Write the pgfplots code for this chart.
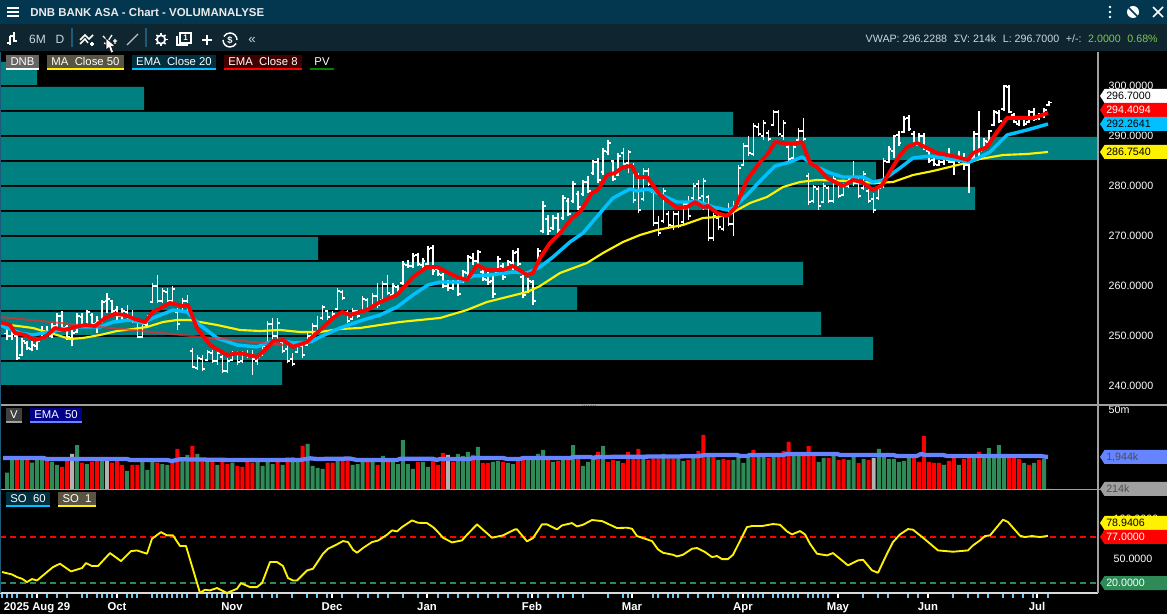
\documentclass[border=0pt]{standalone}
\usepackage{fontspec}
\setmainfont{Liberation Sans}
\usepackage{pgfplots}
\usepackage{pgfplotstable}
\pgfplotsset{compat=1.18}
\definecolor{band}{HTML}{008080}
\definecolor{titlebar}{HTML}{03364F}
\definecolor{toolbar}{HTML}{0F2530}
\definecolor{sep}{HTML}{1F5A7A}
\definecolor{volgreen}{HTML}{2E8B57}
\definecolor{emablue}{HTML}{6684FF}
\definecolor{cyanl}{HTML}{00C0FF}
\definecolor{tickblue}{HTML}{6CC6F0}
\definecolor{frame}{HTML}{A0A0A0}
\definecolor{info}{HTML}{C8D8E0}
\definecolor{infogreen}{HTML}{7EC850}
\pgfplotstableread{
i h l o c
0 251.9 249.2 250.5 250.0
1 251.5 249.2 250.0 250.4
2 250.5 245.2 250.0 245.6
3 249.5 245.9 246.2 249.0
4 248.9 247.2 248.6 247.6
5 248.9 246.9 247.4 248.2
6 249.2 247.2 248.0 248.9
7 251.9 249.2 249.4 251.0
8 251.9 249.9 250.6 250.4
9 252.5 249.5 250.0 252.0
10 254.5 251.5 252.0 254.0
11 254.9 251.2 254.0 251.6
12 252.2 249.2 251.8 249.8
13 251.9 247.9 249.6 250.6
14 254.5 250.5 250.8 254.0
15 254.5 251.5 253.8 252.0
16 255.2 251.9 252.2 254.8
17 254.5 251.9 254.2 252.4
18 253.9 250.5 252.6 253.0
19 257.2 252.5 253.0 256.8
20 258.5 254.5 257.0 257.4
21 257.2 254.5 257.0 255.0
22 255.9 253.2 255.2 254.0
23 255.5 253.2 254.0 255.0
24 256.2 252.9 254.8 253.4
25 255.2 252.5 253.4 253.0
26 253.2 249.5 252.8 249.8
27 252.9 249.5 249.8 252.4
28 254.2 251.5 252.2 254.0
29 260.5 256.5 256.8 260.0
30 262.2 256.5 260.0 257.0
31 259.5 256.5 257.0 259.0
32 259.5 256.5 258.8 257.0
33 259.9 256.5 257.0 259.4
34 255.5 251.2 254.8 252.4
35 257.5 254.5 254.8 257.0
36 258.2 254.9 257.0 255.4
37 247.5 243.5 247.0 243.8
38 246.2 243.2 243.6 245.6
39 246.2 242.9 245.4 243.4
40 247.2 244.9 245.2 246.8
41 247.2 244.5 246.6 245.0
42 247.2 244.2 245.0 246.6
43 246.2 242.5 245.8 243.0
44 245.5 242.5 243.0 245.0
45 246.9 244.9 245.2 246.4
46 246.9 244.2 246.4 244.8
47 246.9 244.5 245.0 246.4
48 247.2 245.5 246.2 246.0
49 247.2 242.2 246.0 245.4
50 246.2 244.2 245.0 245.8
51 248.2 245.9 246.2 248.0
52 252.9 248.2 248.4 252.4
53 253.5 249.2 252.4 250.0
54 253.5 249.2 250.0 252.6
55 249.2 246.5 248.8 247.0
56 248.2 244.5 247.4 245.0
57 246.5 243.9 245.4 244.4
58 248.5 246.5 246.8 248.2
59 248.9 245.5 248.0 246.2
60 250.5 247.9 248.2 250.0
61 252.5 248.5 250.0 252.0
62 253.9 250.5 252.0 250.8
63 256.2 253.2 253.6 255.8
64 255.2 253.2 255.0 253.8
65 254.9 252.9 253.4 254.4
66 259.5 255.2 255.4 259.0
67 259.2 257.2 258.8 257.6
68 255.2 252.5 254.8 253.0
69 255.5 253.2 253.4 255.0
70 255.2 253.5 255.0 254.0
71 257.9 254.5 254.8 257.4
72 257.5 255.2 257.2 255.6
73 258.5 255.5 255.8 258.0
74 260.5 255.5 258.0 256.2
75 260.9 256.9 257.2 260.4
76 262.2 258.2 260.4 258.6
77 260.5 257.9 258.2 260.0
78 260.2 257.9 259.8 258.4
79 264.9 260.2 260.6 264.4
80 265.2 263.5 264.2 264.0
81 266.5 263.5 264.0 266.0
82 266.5 263.9 266.2 264.4
83 265.5 263.5 264.2 265.0
84 267.9 263.9 264.4 267.4
85 268.2 262.2 267.6 263.0
86 263.9 261.9 263.4 262.4
87 262.5 259.5 262.2 260.0
88 261.2 258.9 260.0 259.6
89 261.2 259.2 259.6 260.8
90 261.2 257.9 260.8 258.4
91 263.2 260.5 260.8 262.8
92 266.2 261.9 262.6 265.8
93 266.5 264.2 265.6 265.0
94 267.2 264.2 265.0 266.8
95 263.2 260.9 262.8 261.4
96 262.9 260.2 261.2 260.8
97 261.9 257.5 261.0 258.4
98 265.9 262.5 262.8 265.4
99 264.5 261.2 264.0 261.8
100 265.2 263.2 263.6 264.8
101 267.2 263.2 264.6 266.6
102 267.5 263.9 266.8 264.4
103 262.2 257.5 261.8 258.2
104 261.5 258.5 258.8 261.0
105 261.2 256.2 260.8 257.0
106 267.6 263.4 263.8 267.0
107 276.9 270.5 271.0 276.0
108 274.2 270.2 273.4 271.0
109 274.2 271.2 271.6 273.6
110 274.5 270.5 273.6 271.2
111 278.2 273.2 273.6 277.6
112 277.5 273.9 277.0 274.4
113 280.9 276.5 277.0 280.4
114 278.9 275.2 278.4 275.8
115 281.2 277.9 278.4 280.8
116 281.9 278.5 280.8 279.0
117 285.2 282.2 282.6 284.8
118 285.5 280.5 284.8 281.2
119 287.5 282.2 282.8 287.0
120 289.2 286.2 286.8 288.6
121 285.2 280.9 285.0 281.4
122 286.5 281.9 282.2 286.0
123 287.5 283.9 286.6 284.4
124 287.2 282.5 284.6 286.8
125 284.5 276.5 284.0 277.2
126 282.5 274.5 282.0 275.2
127 283.5 276.9 277.4 283.0
128 283.5 279.9 283.0 280.4
129 279.2 271.9 278.8 272.6
130 273.9 269.9 272.6 270.6
131 279.5 272.5 273.0 279.0
132 274.9 271.5 274.4 272.2
133 274.9 271.2 272.0 274.4
134 274.9 271.5 274.4 272.0
135 276.9 272.2 272.8 276.4
136 277.9 273.2 276.4 274.0
137 280.5 277.2 277.6 280.0
138 281.2 276.9 280.4 277.6
139 281.5 275.2 278.0 281.0
140 278.2 268.9 277.8 269.6
141 274.5 268.9 269.6 274.0
142 274.2 271.2 273.6 271.8
143 274.5 270.9 271.4 274.0
144 276.5 271.9 274.0 272.4
145 276.9 269.9 272.4 276.0
146 284.2 275.9 276.4 283.6
147 288.5 283.9 284.2 288.0
148 289.9 285.9 288.0 286.6
149 292.5 285.9 286.4 292.0
150 292.5 289.9 291.8 290.4
151 293.2 289.2 290.0 292.6
152 291.2 288.9 290.6 289.4
153 295.2 291.9 292.2 294.8
154 295.2 289.9 294.8 290.4
155 293.2 289.2 290.0 292.6
156 288.2 284.9 287.8 285.4
157 288.2 285.2 285.6 287.8
158 291.5 288.9 289.2 291.0
159 293.5 288.9 291.0 289.4
160 282.5 276.2 282.0 276.8
161 280.2 276.5 277.0 279.8
162 279.9 275.2 279.4 276.0
163 280.5 276.5 276.8 280.0
164 279.9 276.5 279.6 277.0
165 281.9 276.5 277.0 281.4
166 280.9 277.5 280.6 278.0
167 280.5 277.9 278.2 280.0
168 281.9 279.5 280.0 281.4
169 284.9 279.9 281.0 280.6
170 281.5 277.5 280.6 278.0
171 282.9 279.2 279.6 282.4
172 279.5 276.5 279.0 277.0
173 278.5 274.5 277.4 275.2
174 279.9 277.2 277.6 279.6
175 285.5 279.5 280.0 285.0
176 287.9 284.5 284.8 287.4
177 290.2 285.5 287.0 290.0
178 291.0 288.0 290.2 288.6
179 293.9 290.5 290.8 293.4
180 294.2 290.9 293.6 291.4
181 290.9 287.9 290.4 288.4
182 290.5 287.9 288.2 290.0
183 290.5 287.2 290.0 287.8
184 287.2 284.5 287.0 285.0
185 285.5 283.9 285.2 284.4
186 285.2 283.9 284.2 284.8
187 285.9 284.2 284.8 285.4
188 287.5 284.5 285.2 284.8
189 285.9 282.2 284.8 285.2
190 286.9 284.5 285.2 285.0
191 286.5 283.2 285.0 284.2
192 285.2 278.5 284.2 284.8
193 290.9 285.2 285.6 290.4
194 294.9 285.9 290.4 287.0
195 289.5 287.2 287.4 289.0
196 291.2 288.5 288.8 291.0
197 295.2 291.9 292.2 294.8
198 295.2 292.5 294.6 293.0
199 300.2 295.0 295.4 300.0
200 300.2 294.5 299.8 294.8
201 294.5 292.5 294.2 292.8
202 293.9 291.9 292.4 293.4
203 293.9 291.9 293.4 292.4
204 295.2 292.5 292.8 294.8
205 295.5 292.9 294.8 293.4
206 294.5 293.2 293.6 294.2
207 295.5 293.5 294.2 295.2
208 296.9 295.9 296.2 296.7
}\ohlc
\pgfplotstableread{
i v
0 660
1 1780
3 1780
5 1320
6 1780
7 1780
9 1380
10 1125
14 4460
16 1200
19 1585
24 743
27 1515
28 795
29 1515
31 1200
32 1125
35 1585
36 2240
38 2400
40 1585
42 1125
45 1320
50 1585
51 1050
52 1515
53 1200
55 1125
57 1905
58 1585
60 4790
61 1050
62 912
63 852
66 1585
69 1125
70 1200
71 1410
73 1585
75 2090
77 1515
78 1200
79 6300
80 1200
81 852
83 1380
84 980
90 2400
91 2090
92 2760
94 3900
97 1380
98 1480
100 1290
101 1200
104 1780
105 1780
106 2400
107 3160
109 1380
111 1665
113 4460
115 1050
116 1380
117 1665
119 4170
122 1480
127 1780
131 2400
134 1780
135 1480
137 2400
140 1990
142 1585
145 1585
146 1990
147 1290
148 1990
150 2240
151 1990
153 2090
157 2240
158 2240
162 1380
163 1820
165 2240
168 1585
169 1990
171 1700
174 3390
175 2090
176 1700
177 1700
178 1380
179 1480
180 1905
187 1125
190 1125
193 1905
195 2090
196 3620
197 2090
198 4460
199 1820
203 1290
205 1290
207 1700
208 214
}\volgreentab
\pgfplotstableread{
i v
2 1780
4 1585
8 1585
11 980
12 1585
15 1320
17 1410
18 1585
21 1320
22 1585
23 1125
25 1125
26 1125
30 1320
33 1320
34 3390
37 4170
39 1585
41 1515
43 1585
44 1200
46 1050
47 980
48 1380
49 1320
54 1585
56 1905
59 4170
64 1320
65 1320
67 1585
68 1585
72 1410
74 1125
76 1410
82 1380
85 1515
86 1125
87 2580
89 1410
93 2240
95 1290
96 1290
99 1380
102 1515
103 1780
108 1780
110 1480
112 1780
114 1780
118 2760
120 1380
121 1585
123 1290
124 2760
125 1780
126 3390
128 1585
129 1780
130 1780
132 1780
133 1780
136 1585
138 2950
139 8900
141 1990
143 1700
144 1585
149 3160
152 1820
154 2090
155 2950
156 5500
159 2240
160 4170
161 2240
164 1820
166 1585
167 1700
170 1290
172 1585
181 1820
182 1380
183 8300
184 1380
185 1290
186 1290
188 1480
189 1820
191 1700
192 1820
194 2760
200 2090
201 2090
202 1700
204 1125
206 1585
}\volredtab
\pgfplotstableread{
i v
13 2400
20 1585
88 2240
173 1820
}\volgraytab
\begin{document}
\begin{tikzpicture}
\fill[black] (0pt,0pt) rectangle (875.25pt,460.5pt);
% ---------- price panel
\begin{axis}[
  at={(0pt,157.5pt)}, anchor=south west, scale only axis,
  width=823.5pt, height=264pt,
  xmin=0, xmax=1098, ymin=236.4, ymax=306.8,
  axis x line=none, axis y line*=right,
  axis line style={draw=none},
  ytick={240,250,260,270,280,290,300},
  major tick length=0pt,
  scaled y ticks=false,
  y tick label style={/pgf/number format/.cd, fixed, fixed zerofill, precision=4, assume math mode=true, /tikz/.cd, font=\fontsize{8}{9}\selectfont, text=white, xshift=4.5pt},
]
\addplot[xbar, bar width=4.6, bar shift=0pt, fill=band, draw=none] coordinates {
 (37,302.5) (144,297.5) (733,292.5) (1098,287.5) (876,282.5) (975,277.5) (602,272.5)
 (318,267.5) (803,262.5) (577,257.5) (821,252.5) (873,247.5) (282,242.5)};
\addplot[draw=none, mark=none, error bars/.cd, y dir=plus, y explicit, error mark=none, error bar style={white, line width=1.1pt}]
  table[x expr=7+5.01*\thisrow{i}, y=l, y error plus expr=\thisrow{h}-\thisrow{l}] {\ohlc};
\addplot[draw=none, mark=none, error bars/.cd, x dir=minus, x fixed=2.6, error mark=none, error bar style={white, line width=.9pt}]
  table[x expr=7+5.01*\thisrow{i}, y=o] {\ohlc};
\addplot[draw=none, mark=none, error bars/.cd, x dir=plus, x fixed=2.6, error mark=none, error bar style={white, line width=.9pt}]
  table[x expr=7+5.01*\thisrow{i}, y=c] {\ohlc};
% MA 50
\addplot[yellow, line width=1.6pt, line join=round] coordinates {
(10,252.2)(33,251.6)(43,251.0)(57,250.2)(70,249.4)(83,249.6)(100,250.2)(117,251.0)(133,251.4)(147,251.8)(163,252.8)(177,253.2)(190,253.2)(200,252.8)(217,252.2)(240,251.2)(260,251.0)(280,251.2)(300,250.8)(320,250.8)(340,251.4)(360,251.6)(400,252.8)(440,253.6)(467,255.2)(487,256.8)(507,257.8)(527,258.8)(540,260.0)(560,262.6)(587,264.6)(603,266.6)(623,268.8)(640,270.2)(657,271.2)(683,272.2)(703,273.6)(717,273.8)(730,274.4)(750,276.6)(767,277.8)(783,279.8)(800,280.8)(817,281.2)(850,281.0)(877,280.6)(893,280.8)(913,282.2)(933,283.0)(970,284.8)(980,285.4)(1003,286.2)(1027,286.4)(1048,286.8)};
% EMA 20
\addplot[cyanl, line width=2.6pt, line join=round] coordinates {
(0,252.2)(20,250.6)(33,250.2)(60,251.2)(77,251.8)(100,251.8)(113,252.8)(130,253.2)(143,252.6)(153,253.6)(173,255.2)(187,254.8)(200,252.2)(217,249.6)(237,248.2)(257,247.8)(267,248.6)(280,249.2)(293,248.6)(310,248.8)(320,249.8)(340,251.6)(363,253.2)(380,254.2)(397,255.8)(413,258.2)(428,260.2)(440,260.8)(460,260.8)(473,262.0)(490,262.2)(513,262.8)(527,262.6)(540,263.8)(553,265.8)(570,268.8)(583,270.6)(600,274.6)(613,277.6)(630,279.4)(637,279.0)(648,279.4)(657,278.6)(677,276.8)(690,276.8)(697,277.0)(713,275.8)(727,275.2)(733,275.6)(747,278.2)(763,281.6)(775,284.0)(790,284.8)(802,285.8)(817,283.8)(830,282.6)(843,281.8)(863,281.8)(873,280.8)(883,281.2)(900,283.6)(913,285.6)(930,286.0)(950,285.4)(970,284.8)(990,286.8)(1007,290.2)(1027,291.2)(1048,292.4)};
\addplot[draw=red!85!white, line width=1.5pt, opacity=.7] coordinates {(0,253.8) (283,248.2)};
% EMA 8
\addplot[red, line width=2.9pt, line join=round] coordinates {
(0,252.8)(10,252.2)(15,250.6)(25,250.2)(35,249.2)(45,249.8)(55,251.6)(65,251.2)(75,251.8)(85,252.2)(95,252.0)(105,253.6)(115,254.4)(125,254.2)(135,253.4)(145,252.8)(153,254.8)(170,256.6)(183,256.0)(188,256.2)(197,251.6)(210,248.2)(227,246.2)(240,246.6)(257,245.8)(267,247.6)(273,249.0)(283,249.2)(293,247.8)(307,248.8)(320,251.2)(333,253.6)(342,254.8)(350,254.2)(367,255.2)(380,256.8)(397,258.2)(413,261.8)(427,263.8)(437,263.8)(457,261.8)(467,261.2)(477,264.2)(487,263.2)(503,263.2)(513,264.0)(527,262.2)(533,262.6)(540,265.6)(550,268.6)(560,270.6)(572,273.6)(580,274.8)(592,278.6)(598,279.2)(607,282.2)(615,282.6)(623,283.8)(632,284.0)(637,281.8)(647,281.8)(660,278.2)(677,275.6)(687,275.8)(695,276.8)(703,275.8)(708,276.0)(717,274.6)(727,274.0)(735,275.6)(747,281.2)(760,284.8)(767,286.2)(775,288.8)(792,288.4)(802,288.8)(810,284.6)(817,283.8)(827,281.6)(843,280.0)(853,281.2)(862,280.8)(873,279.2)(882,280.2)(900,286.2)(907,287.8)(917,288.6)(937,286.6)(957,285.8)(968,285.2)(973,286.6)(987,287.8)(997,290.8)(1007,293.6)(1033,293.6)(1048,294.6)};
\end{axis}
% ---------- volume panel
\begin{axis}[
  at={(0pt,93.75pt)}, anchor=south west, scale only axis,
  width=823.5pt, height=63pt,
  xmin=0, xmax=1098, ymode=log, ymin=214, ymax=70600,
  axis x line=none, axis y line*=right,
  axis line style={draw=none},
  ytick={50000}, yticklabels={50m}, minor ytick={},
  major tick length=0pt,
  y tick label style={font=\fontsize{8}{9}\selectfont, text=white, xshift=4.5pt},
]
\addplot[ybar, bar width=4.0, bar shift=0pt, fill=volgreen, draw=none] table[x expr=7+5.01*\thisrow{i}, y=v] {\volgreentab};
\addplot[ybar, bar width=4.0, bar shift=0pt, fill=red, draw=none] table[x expr=7+5.01*\thisrow{i}, y=v] {\volredtab};
\addplot[ybar, bar width=4.0, bar shift=0pt, fill=black!30, draw=none] table[x expr=7+5.01*\thisrow{i}, y=v] {\volgraytab};
\addplot[emablue, line width=3.2pt, line join=round] coordinates {
(3,1820)(43,1820)(47,1700)(127,1700)(130,1585)(167,1585)(172,1480)(180,1665)(233,1585)(300,1585)(310,1780)(317,1700)(350,1750)(357,1585)(397,1585)(400,1720)(433,1720)(437,1585)(440,1700)(470,1700)(473,1820)(503,1820)(507,1700)(520,1700)(523,1820)(570,1820)(574,1950)(590,1950)(594,1820)(596,1950)(697,2050)(705,2240)(737,2240)(740,2090)(747,2090)(750,2240)(783,2240)(787,2400)(837,2400)(840,2240)(893,2240)(897,2090)(917,2090)(921,2400)(925,2240)(943,2240)(947,2090)(1040,2090)(1048,1944)};
\end{axis}
% ---------- stochastic panel
\begin{axis}[
  at={(0pt,15.75pt)}, anchor=south west, scale only axis,
  width=823.5pt, height=77.25pt,
  xmin=0, xmax=1098, ymin=7.5, ymax=136.25,
  axis x line*=bottom, axis y line*=right,
  x axis line style={draw=white!85!black, line width=.8pt, -},
  y axis line style={draw=none, -},
  ytick={50,100},
  scaled y ticks=false,
  y tick label style={/pgf/number format/.cd, fixed, fixed zerofill, precision=4, assume math mode=true, /tikz/.cd, font=\fontsize{8}{9}\selectfont, text=white, xshift=4.5pt},
  xtick={37,117,232,332,427,532,632,743,838,928,1037},
  xticklabels={2025 Aug 29,Oct,Nov,Dec,Jan,Feb,Mar,Apr,May,Jun,Jul},
  x tick label style={font=\bfseries\fontsize{8.5}{9}\selectfont, text=white, inner sep=0pt, text height=6.3pt, text depth=0pt, yshift=-2.8pt},
  minor xtick={2,7,12,17,27,32,37,47,57,67,82,87,97,102,107,112,117,127,132,137,152,157,162,167,172,177,182,187,197,207,212,217,222,227,242,252,262,272,277,292,307,317,327,342,358,368,378,388,403,418,438,448,458,468,478,488,498,508,518,528,538,548,558,563,573,583,608,623,628,653,658,668,673,678,688,698,708,713,723,728,738,748,753,758,763,773,778,783,788,793,798,808,813,818,823,828,863,878,888,908,918,953,968,978,988,1003,1013,1023,1033,1048},
  tick align=outside,
  major tick length=3.75pt, minor tick length=3.75pt,
  major tick style={white, line width=1pt},
  minor tick style={tickblue, line width=1pt},
  xtick pos=bottom,
  ytick style={draw=none},
]
\addplot[draw=red, line width=1.5pt, dash pattern=on 4.5pt off 3pt] coordinates {(0,77) (1098,77)};
\addplot[draw=volgreen, line width=1.5pt, dash pattern=on 4.5pt off 3pt] coordinates {(0,20) (1098,20)};
\addplot[yellow, line width=1.4pt, line join=round] coordinates {
(2,33.7)(12,30.7)(17,27.4)(22,25.3)(27,21.2)(32,24.9)(37,23.2)(45,31.6)(53,39.9)(60,44.1)(71,34.5)(82,38.7)(86,44.9)(92,41.2)(98,41.2)(110,57.4)(121,47.4)(131,59.9)(137,60.7)(147,56.6)(152,75.3)(161,83.6)(167,79.5)(173,79.5)(180,66.2)(186,66.2)(200,7.6)(205,11.6)(210,10.75)(217,13.7)(227,7.6)(237,12.8)(241,19.9)(250,14.9)(257,14.9)(262,19.9)(270,46.2)(277,46.2)(283,41.2)(288,26.2)(293,23.2)(297,23.2)(307,35.7)(313,37.8)(323,56.6)(328,62.8)(335,67)(343,72.4)(348,71.2)(353,61.6)(357,57.8)(363,63.7)(372,71.2)(378,73)(387,80.3)(392,85.75)(397,84.5)(402,89.9)(412,98.25)(418,95.3)(427,94.9)(433,89.9)(438,83.7)(443,76.6)(452,70.75)(462,73.25)(467,80.3)(477,93.25)(492,76.6)(503,79.5)(515,87)(517,87)(527,72)(533,76.2)(542,93.25)(547,93.25)(557,87)(562,92)(572,94.9)(577,90.75)(583,92.8)(592,98.7)(602,97.4)(617,88.7)(627,89.1)(632,87.8)(637,78.7)(652,72.4)(658,62)(663,57.8)(673,55.3)(677,53.25)(683,55.3)(692,62.8)(697,63.7)(705,58.7)(712,52.4)(717,53.7)(722,49.9)(728,49.9)(733,55.3)(747,89.9)(752,91.2)(762,91.2)(773,93.7)(780,92.8)(787,84.5)(792,80.75)(800,84.9)(805,80.75)(810,69)(817,56.6)(827,54.5)(833,57.4)(848,42)(858,48.25)(863,49.1)(872,35.75)(878,32.8)(887,56.6)(893,71.2)(900,80.75)(908,87.4)(913,86.6)(923,76.6)(938,60.75)(953,59.1)(968,60.75)(973,67)(980,73.25)(985,78.7)(990,79.5)(1003,99.1)(1008,96.2)(1020,79.1)(1025,77.4)(1032,78.7)(1040,77.4)(1048,79)};
\end{axis}
% ---------- chrome in pixel coordinates (y down)
\begin{scope}[x=0.75pt,y=-0.75pt,yshift=460.5pt]
\newcommand{\chip}[7]{%
  \fill[#5] (#1,#3) rectangle (#2,#4);
  \fill[#6] (#1,#4) rectangle (#2,#4+2);
  \node[text=white,font=\fontsize{8.5}{9}\selectfont,inner sep=0pt] at ({(#1+#2)/2},{(#3+#4)/2}) {#7};}
\newcommand{\ptag}[4]{%
  \fill[#2] (1100,#1) -- (1104.5,#1-7) -- (1167,#1-7) -- (1167,#1+7) -- (1104.5,#1+7) -- cycle;
  \node[text=#3,font=\fontsize{8}{9}\selectfont,inner sep=0pt,anchor=west] at (1106,#1) {#4};}
% frame lines
\draw[frame,line width=.9pt] (1098,52) -- (1098,593);
\draw[frame,line width=1.2pt] (0,405) -- (1167,405);
\draw[frame,line width=1.2pt] (0,489.5) -- (1100,489.5);
\draw[black!60,line width=.6pt,dash pattern=on .8pt off .8pt] (582,405) -- (595,405);
\draw[sep,line width=.9pt] (0.5,52) -- (0.5,593);
% title bar and toolbar
\fill[titlebar] (0,0) rectangle (1167,24);
\fill[toolbar] (0,24) rectangle (1167,51.5);
\foreach \yy in {8,12,16} \draw[white,line width=1.1pt] (7,\yy) -- (19,\yy);
\node[anchor=west,inner sep=0pt,text=white!92!black,font=\bfseries\fontsize{8.6}{10}\selectfont] at (30,12) {DNB BANK ASA - Chart - VOLUMANALYSE};
\foreach \yy in {7,12,17} \fill[white] (1110,\yy) circle (1.3);
\fill[white] (1133,12) circle (6);
\draw[titlebar,line width=1.1pt] (1126,5) -- (1141,20);
\draw[white,line width=1.1pt] (1153,7) -- (1163,17) (1163,7) -- (1153,17);
% toolbar icons
\draw[white,line width=1pt] (7,43) -- (10,43) (10,45) -- (10,36) (10,36) -- (13,36) (14,32) -- (14,41) -- (17,41);
\node[text=info,font=\fontsize{9}{10}\selectfont,inner sep=0pt] at (37.5,39.5) {6M};
\node[text=info,font=\fontsize{9}{10}\selectfont,inner sep=0pt] at (60,39.5) {D};
\draw[sep,line width=1pt] (72,28) -- (72,47) (146,28) -- (146,47);
\draw[white,line width=1.1pt] (80,40) -- (85,35) -- (89,39) -- (93,35) (80,44) -- (85,39) -- (88,43);
\draw[white,line width=.9pt] (90,44) -- (94,44) (92,42) -- (92,46);
\draw[white,line width=1pt] (103,36) -- (108,41) -- (112,35) (104,43) -- (109,45) (113,41) -- (117,41) (115,39) -- (115,44);
\draw[white!75!black,line width=1pt] (127,45) -- (138,34);
\draw[white,line width=1.3pt,fill=toolbar] (161,39.5) circle (4.2);
\foreach \aa in {0,45,...,315} \draw[white,line width=1.3pt] ({161+4.2*cos(\aa)},{39.5+4.2*sin(\aa)}) -- ({161+6.5*cos(\aa)},{39.5+6.5*sin(\aa)});
\draw[white,line width=1pt] (177,36) -- (177,45) -- (188,45);
\draw[white,line width=1.1pt] (180,33) rectangle (191,43);
\node[text=white,font=\bfseries\fontsize{6}{7}\selectfont,inner sep=0pt] at (185.5,38) {1};
\draw[white,line width=1.6pt] (202,40) -- (212,40) (207,35) -- (207,45);
\draw[white,line width=1.1pt] (223,40) arc (180:30:7) (237,40) arc (0:-150:7);
\node[text=white,font=\bfseries\fontsize{7}{8}\selectfont,inner sep=0pt] at (230,40) {\$};
\node[text=info,font=\fontsize{10}{11}\selectfont,inner sep=0pt] at (252,40.5) {«};
% cursor
\fill[white,draw=black,line width=.4pt] (106,38) -- (106,50) -- (109,47.5) -- (111,53) -- (113.5,52) -- (111.5,46.5) -- (115,46) -- cycle;
% status line
\node[anchor=east,inner sep=0pt,font=\fontsize{8}{9}\selectfont,text=info] at (1158,39) {VWAP: 296.2288\hspace{5pt}ΣV: 214k\hspace{5pt}L: 296.7000\hspace{5pt}+/-:\hspace{2pt} {\color{infogreen}2.0000\hspace{5pt}0.68\%}};
% legend chips
\chip{6}{39}{55}{68}{black!60}{white}{DNB}
\chip{47}{124}{55}{68}{yellow!25!black}{yellow}{MA\ \ Close 50}
\chip{132}{216}{55}{68}{cyanl!25!black}{cyanl}{EMA\ \ Close 20}
\chip{224}{302}{55}{68}{red!25!black}{red}{EMA\ \ Close 8}
\chip{310}{334}{55}{68}{black}{green!50!black}{PV}
\chip{6}{22}{408}{421}{black!75}{frame}{V}
\chip{30}{82}{408}{421}{blue!35!black!70!blue}{emablue}{EMA\ \ 50}
\chip{6}{50}{492}{505}{cyanl!25!black}{cyanl}{SO\ \ 60}
\chip{58}{96}{492}{505}{yellow!25!black}{yellow}{SO\ \ 1}
% value tags
\ptag{96}{white}{black}{296.7000}
\ptag{110}{red}{white}{294.4094}
\ptag{124}{cyanl}{black}{292.2641}
\ptag{152}{yellow}{black}{286.7540}
\ptag{457}{emablue}{black!70}{1,944k}
\ptag{489}{frame}{black!70}{214k}
\ptag{523}{yellow}{black}{78.9406}
\ptag{537}{red}{white}{77.0000}
\ptag{583}{volgreen}{white}{20.0000}
\end{scope}
\pgfresetboundingbox
\path[use as bounding box] (0pt,0pt) rectangle (875.25pt,460.5pt);
\end{tikzpicture}
\end{document}
